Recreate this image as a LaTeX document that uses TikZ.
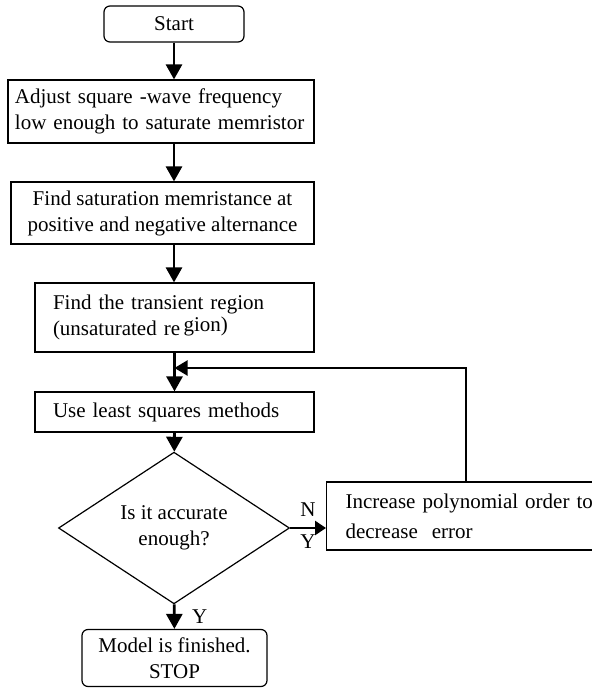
\documentclass[tikz,border=0pt]{standalone}
\usepackage{fontspec}
\setmainfont{Liberation Serif}
\usetikzlibrary{positioning,calc,shapes.geometric,arrows.meta}
\tikzset{
  every node/.style={font=\fontsize{21}{26}\selectfont},
  procbox/.style={draw, line width=1.2pt, inner ysep=0pt},
  termbox/.style={procbox, rounded corners=6pt},
  decbox/.style={procbox, diamond, inner sep=0pt, align=center},
  flow/.style={line width=2.8pt, -{Triangle[length=15pt,width=16pt]}},
  back/.style={line width=2.2pt, -{Triangle[length=13pt,width=15pt]}}
}

\begin{document}
\begin{tikzpicture}[x=1pt,y=-1pt]
\useasboundingbox (0,0) rectangle (592,689);

\node [termbox, minimum width=140pt, minimum height=36pt] (start) at (174,24) {Start};
\node [procbox, minimum width=306pt, minimum height=63pt, inner xsep=7pt, text width=292pt, align=left] (adjust) at (161,111.5)
  {Adjust square -wave frequency\\low enough to saturate memristor};
\node [procbox, minimum width=303pt, minimum height=62pt, align=center] (findsat) at (162.5,213)
  {Find saturation memristance at\\positive and negative alternance};
\node [procbox, minimum width=279pt, minimum height=69pt, inner xsep=18pt, text width=243pt, align=left] (transient) at (174.5,317.5)
  {Find the transient region\\(unsaturated re\,\raisebox{4pt}{gion)}};
\node [procbox, minimum width=279pt, minimum height=40pt, inner xsep=18pt, text width=243pt, align=left] (lsq) at (174.5,412)
  {Use least squares methods};
\node [decbox, minimum width=231pt, minimum height=117pt] (accurate) at (174,528)
  {Is it accurate\\enough?};
\node [procbox, anchor=west, minimum height=68pt, inner xsep=19pt, text width=255pt, align=left] (increase) at (326,516)
  {Increase polynomial order to\\[4pt]decrease\ \ error};
\node [termbox, minimum width=185pt, minimum height=57pt, align=center] (model) at (174.5,658)
  {Model is finished.\\STOP};

\coordinate (join) at (174.5,368);

\draw [flow] (start) -- (start |- adjust.north);
\draw [flow] (adjust.south -| start) -- (findsat.north -| start);
\draw [flow] (findsat.south -| start) -- (transient.north -| start);
\draw [flow] (transient) -- (lsq);
\draw [flow] (lsq) -- (accurate);
\draw [flow] (accurate) -- (model) node [midway, right, xshift=13pt] {Y};
\draw [line width=2.6pt, -{Triangle[length=11pt,width=14pt]}] (accurate.east) -- (accurate.east -| increase.west)
  node [midway, above=7pt] {N} node [midway, below=2pt] {Y};
\draw [back] ([xshift=-7.5pt]increase.north) |- (join);

\end{tikzpicture}
\end{document}
